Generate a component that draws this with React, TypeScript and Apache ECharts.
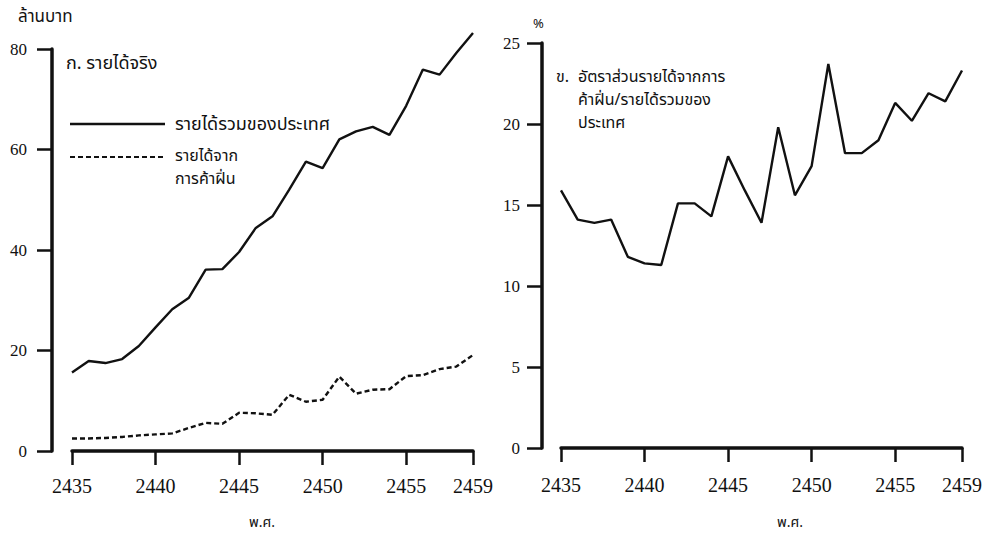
import React, { useEffect, useRef } from "react";
import * as echarts from "echarts";

const years = [
  "2435", "2436", "2437", "2438", "2439", "2440", "2441", "2442", "2443", "2444",
  "2445", "2446", "2447", "2448", "2449", "2450", "2451", "2452", "2453", "2454",
  "2455", "2456", "2457", "2458", "2459",
];
const totalIncome = [
  15.6, 17.9, 17.5, 18.3, 20.9, 24.6, 28.2, 30.5, 36.1, 36.2,
  39.6, 44.4, 46.7, 52.0, 57.6, 56.3, 62.0, 63.6, 64.5, 62.9,
  68.7, 75.9, 74.9, 79.2, 83.2,
];
const opiumIncome = [
  2.5, 2.5, 2.6, 2.8, 3.1, 3.3, 3.5, 4.6, 5.6, 5.4,
  7.6, 7.5, 7.2, 11.2, 9.8, 10.2, 14.8, 11.4, 12.2, 12.3,
  14.9, 15.1, 16.3, 16.8, 19.1,
];
const opiumShare = [
  15.9, 14.1, 13.9, 14.1, 11.8, 11.4, 11.3, 15.1, 15.1, 14.3,
  18.0, 15.9, 13.9, 19.8, 15.6, 17.4, 23.7, 18.2, 18.2, 19.0,
  21.3, 20.2, 21.9, 21.4, 23.3,
];
const leftTicks = [0, 20, 40, 60, 80];
const rightTicks = [0, 5, 10, 15, 20, 25];

const seriesNames = ["รายได้รวมของประเทศ", "รายได้จาก\nการค้าฝิ่น"];
const leftUnit = "ล้านบาท";
const rightUnit = "%";
const xName = "พ.ศ.";
const leftTitle = "ก. รายได้จริง";
const rightTitleLines = ["อัตราส่วนรายได้จากการ", "ค้าฝิ่น/รายได้รวมของ", "ประเทศ"];

const THAI = "Tlwg Typewriter, Noto Sans Thai, Noto Serif Thai, sans-serif";
const NUM = "Liberation Serif";
const INK = "#111";

const shownIdx = (i: number) => i % 5 === 0 || i === years.length - 1;

export default function App() {
  const ref = useRef<HTMLDivElement>(null);
  useEffect(() => {
    if (!ref.current) return;
    const chart = echarts.init(ref.current, undefined, { renderer: "svg" });

    const xAxisBase = (gridIndex: number, offset: number) => ({
      type: "category" as const,
      gridIndex,
      data: years,
      boundaryGap: false,
      offset,
      axisLine: { show: true, lineStyle: { color: INK, width: 3.5 } },
      axisTick: {
        show: true,
        interval: (i: number) => shownIdx(i),
        length: 14,
        lineStyle: { color: INK, width: 2.5 },
      },
      axisLabel: {
        interval: (i: number) => shownIdx(i),
        margin: 23,
        fontFamily: NUM,
        fontSize: 20,
        color: INK,
      },
      splitLine: { show: false },
    });

    const yAxisBase = (gridIndex: number, max: number, interval: number, offset: number, margin: number) => ({
      type: "value" as const,
      gridIndex,
      min: 0,
      max,
      interval,
      offset,
      axisLine: { show: true, lineStyle: { color: INK, width: 3.5 } },
      axisTick: { show: true, length: 15, lineStyle: { color: INK, width: 2.5 } },
      axisLabel: { margin, fontFamily: NUM, fontSize: 17, color: INK },
      splitLine: { show: false },
    });

    const txt = (text: string, x: number, y: number, size = 16, align = "left") => ({
      type: "text",
      x,
      y,
      style: {
        text,
        fontFamily: THAI,
        fontSize: size,
        fill: INK,
        align,
        verticalAlign: "middle",
      },
    });

    const opiumLines = seriesNames[1].split("\n");

    chart.setOption({
      animation: false,
      backgroundColor: "#fff",
      grid: [
        { left: 72, top: 49, width: 401, height: 402 },
        { left: 561, top: 43, width: 401, height: 405 },
      ],
      xAxis: [xAxisBase(0, 2), xAxisBase(1, 4)],
      yAxis: [
        yAxisBase(0, leftTicks[leftTicks.length - 1], leftTicks[1] - leftTicks[0], 20, 25),
        yAxisBase(1, rightTicks[rightTicks.length - 1], rightTicks[1] - rightTicks[0], 19, 22),
      ],
      series: [
        {
          name: seriesNames[0],
          type: "line",
          xAxisIndex: 0,
          yAxisIndex: 0,
          data: totalIncome,
          symbol: "none",
          clip: false,
          lineStyle: { color: INK, width: 2.4 },
        },
        {
          name: seriesNames[1],
          type: "line",
          xAxisIndex: 0,
          yAxisIndex: 0,
          data: opiumIncome,
          symbol: "none",
          clip: false,
          lineStyle: { color: INK, width: 2.4, type: [5, 3] },
        },
        {
          name: "ratio",
          type: "line",
          xAxisIndex: 1,
          yAxisIndex: 1,
          data: opiumShare,
          symbol: "none",
          clip: false,
          lineStyle: { color: INK, width: 2.4 },
        },
      ],
      graphic: [
        txt(leftUnit, 18, 17, 17),
        txt(rightUnit, 533, 24, 13),
        txt(leftTitle, 66, 63, 18),
        { type: "line", shape: { x1: 70, y1: 124, x2: 165, y2: 124 }, style: { stroke: INK, lineWidth: 2.4 } },
        { type: "line", shape: { x1: 70, y1: 157, x2: 165, y2: 157 }, style: { stroke: INK, lineWidth: 2.2, lineDash: [5, 3] } },
        txt(seriesNames[0], 175, 124, 18),
        txt(opiumLines[0], 175, 156, 16),
        txt(opiumLines[1], 175, 179, 16),
        txt("ข.", 556, 77, 16),
        txt(rightTitleLines[0], 578, 77, 16),
        txt(rightTitleLines[1], 578, 100, 16),
        txt(rightTitleLines[2], 578, 123, 16),
        txt(xName, 262, 522, 14, "center"),
        txt(xName, 790, 522, 14, "center"),
      ],
    });
    return () => chart.dispose();
  }, []);
  return (
    <div
      ref={ref}
      style={{ position: "absolute", left: 0, top: 0, width: 990, height: 535, background: "#fff" }}
    />
  );
}
